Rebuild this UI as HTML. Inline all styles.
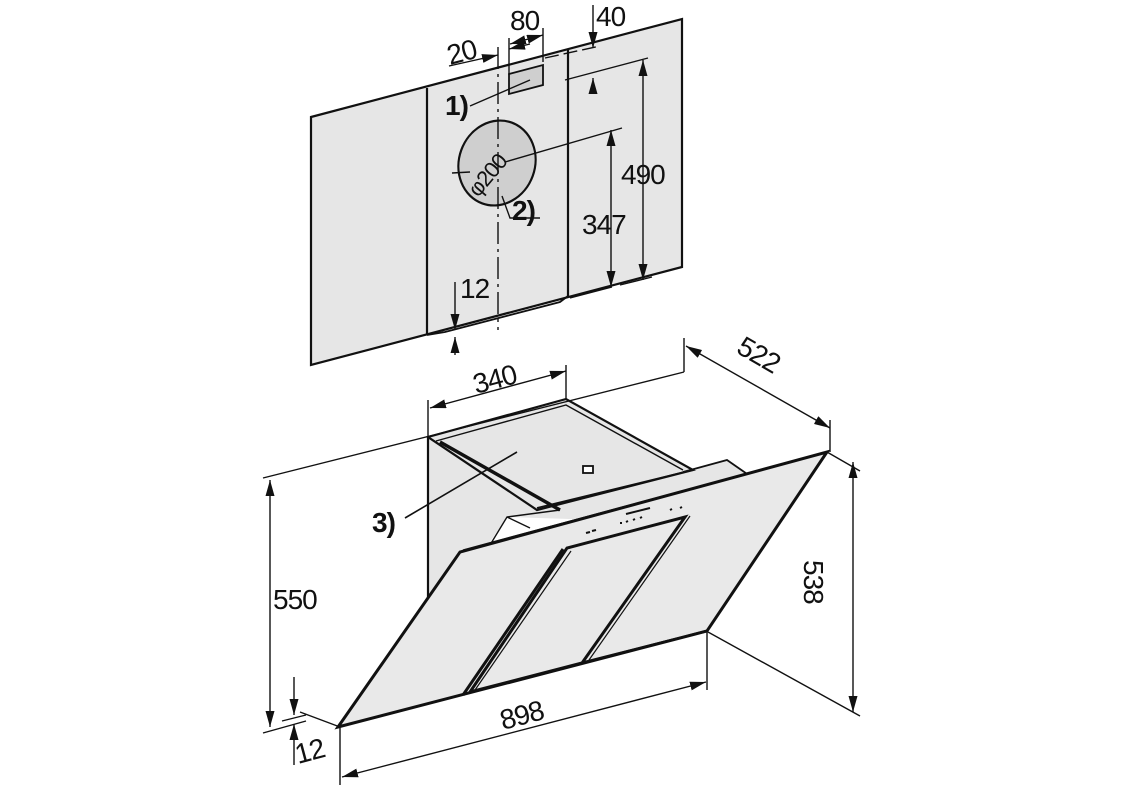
<!DOCTYPE html>
<html><head><meta charset="utf-8"><style>
html,body{margin:0;padding:0;background:#fff;width:1123px;height:788px;overflow:hidden}
svg{display:block}
text{font-family:"Liberation Sans",Arial,sans-serif;fill:#111}
</style></head><body>
<svg width="1123" height="788" viewBox="0 0 1123 788" xmlns="http://www.w3.org/2000/svg">
<defs>
<marker id="a" viewBox="0 0 16 9" refX="16" refY="4.5" markerWidth="16" markerHeight="9" markerUnits="userSpaceOnUse" orient="auto-start-reverse"><path d="M0,0 L16,4.5 L0,9 z" fill="#111"/></marker>
</defs>
<g stroke="#111" stroke-width="1.4" fill="none">
<!-- WALL -->
<polygon points="311,117 682,19 682,267 311,365" fill="#e6e6e6" stroke-width="2.2"/>
<line x1="427" y1="88" x2="427" y2="335" stroke-width="2.2"/>
<line x1="568" y1="50" x2="568" y2="296" stroke-width="2.2"/>
<polyline points="427,335 445,332 560,302 568,296" stroke-width="1.8"/>
<ellipse cx="497" cy="163" rx="38" ry="43" transform="rotate(20 497 163)" fill="#cfcfcf" stroke-width="2.2"/>
<polygon points="509,74 543,65 543,85 509,94" fill="#cfcfcf" stroke-width="1.8"/>
<line x1="498" y1="47" x2="498" y2="330" stroke-dasharray="22,5,3,5"/>
<line x1="452" y1="173" x2="470" y2="172"/>
<!-- leaders -->
<line x1="470" y1="106" x2="530" y2="80"/>
<polyline points="502,196 510,218 540,218"/>
<!-- top dims -->
<line x1="449" y1="66" x2="498" y2="55" marker-end="url(#a)"/>
<line x1="530" y1="44" x2="509" y2="49" marker-end="url(#a)"/>
<line x1="509" y1="38" x2="509" y2="75"/>
<line x1="543" y1="28" x2="543" y2="62"/>
<line x1="510" y1="44" x2="543" y2="35" marker-start="url(#a)" marker-end="url(#a)"/>
<line x1="593" y1="5" x2="593" y2="48" marker-end="url(#a)"/>
<line x1="593" y1="92" x2="593" y2="78" marker-end="url(#a)"/>
<line x1="545" y1="58" x2="600" y2="46" stroke-dasharray="14,5"/>
<line x1="565" y1="80" x2="648" y2="58"/>
<line x1="505" y1="162" x2="622" y2="128"/>
<line x1="643" y1="60" x2="643" y2="280" marker-start="url(#a)" marker-end="url(#a)"/>
<line x1="611" y1="130" x2="611" y2="287" marker-start="url(#a)" marker-end="url(#a)"/>
<line x1="570" y1="298" x2="612" y2="287"/>
<line x1="620" y1="285" x2="652" y2="277"/>
<line x1="455" y1="282" x2="455" y2="330" marker-end="url(#a)"/>
<line x1="455" y1="355" x2="455" y2="337" marker-end="url(#a)"/>
<!-- HOOD box -->
<polygon points="428,437 566,399 693,470 727,460 750,476 600,520 507,517 490,542 428,600" fill="#e6e6e6" stroke="none"/>
<line x1="428" y1="437" x2="428" y2="600" stroke-width="2.2"/>
<polygon points="428,437 566,399 693,470 537,510" fill="#e6e6e6" stroke-width="2.2"/>
<polyline points="436,441 566,405 683,470" stroke-width="1.4"/>
<line x1="440" y1="442" x2="560" y2="510" stroke-width="3.5"/>
<line x1="537" y1="508" x2="693" y2="470" stroke-width="1.8"/>
<polyline points="683,472 727,460 750,476" stroke-width="1.8"/>
<polyline points="490,545 507,517 560,510"/>
<line x1="507" y1="517" x2="530" y2="528"/>
<rect x="583" y="466" width="10" height="7" fill="#fff" stroke-width="1.8"/>
<!-- glass -->
<polygon points="338,727 460,552 827,452 707,631" fill="#e9e9e9" stroke-width="3"/>
<polyline points="463,550 827,452" stroke-width="1.4"/>
<line x1="463" y1="695" x2="563" y2="549" stroke-width="3"/>
<polygon points="470,692 567,548 685,517 582,663" fill="#e9e9e9" stroke-width="3"/>
<line x1="475" y1="690" x2="571" y2="551" stroke-width="1.2"/>
<line x1="589" y1="660" x2="690" y2="516" stroke-width="1.2"/>
<line x1="585" y1="662" x2="707" y2="631" stroke-width="2.5"/>
<g stroke-width="2"><line x1="586" y1="533" x2="590" y2="532"/><line x1="592" y1="531" x2="596" y2="530"/><line x1="620" y1="523" x2="622" y2="523"/><line x1="626" y1="522" x2="628" y2="521"/><line x1="633" y1="520" x2="635" y2="519"/><line x1="640" y1="518" x2="642" y2="517"/><line x1="626" y1="514" x2="650" y2="508"/><line x1="670" y1="510" x2="672" y2="509"/><line x1="680" y1="508" x2="682" y2="507"/></g>
<line x1="405" y1="518" x2="517" y2="452" stroke-width="1.6"/>
<!-- hood dims -->
<line x1="263" y1="478" x2="684" y2="372"/>
<line x1="684" y1="338" x2="684" y2="372"/>
<line x1="428" y1="400" x2="428" y2="437"/>
<line x1="566" y1="365" x2="566" y2="399"/>
<line x1="430" y1="408" x2="566" y2="371" marker-start="url(#a)" marker-end="url(#a)"/>
<line x1="686" y1="346" x2="830" y2="428" marker-start="url(#a)" marker-end="url(#a)"/>
<line x1="830" y1="420" x2="830" y2="452"/>
<line x1="827" y1="452" x2="860" y2="471"/>
<line x1="708" y1="632" x2="860" y2="716"/>
<line x1="853" y1="462" x2="853" y2="712" marker-start="url(#a)" marker-end="url(#a)"/>
<line x1="270" y1="480" x2="270" y2="727" marker-start="url(#a)" marker-end="url(#a)"/>
<line x1="263" y1="733" x2="306" y2="721"/>
<line x1="282" y1="721" x2="306" y2="715"/>
<line x1="300" y1="712" x2="340" y2="727"/>
<line x1="294" y1="677" x2="294" y2="715" marker-end="url(#a)"/>
<line x1="294" y1="765" x2="294" y2="724" marker-end="url(#a)"/>
<line x1="340" y1="727" x2="340" y2="785"/>
<line x1="707" y1="632" x2="707" y2="690"/>
<line x1="342" y1="777" x2="706" y2="682" marker-start="url(#a)" marker-end="url(#a)"/>
</g>
<g font-size="28" letter-spacing="-1">
<text x="450" y="65" transform="rotate(-15 450 65)">20</text>
<text x="510" y="30">80</text>
<text x="596" y="26">40</text>
<text x="621" y="184">490</text>
<text x="582" y="234">347</text>
<text x="460" y="298">12</text>
<text x="478" y="198" font-size="22" transform="rotate(-50 478 198)">φ200</text>
<text x="445" y="115" font-weight="bold">1)</text>
<text x="512" y="220" font-weight="bold">2)</text>
<text x="476" y="394" transform="rotate(-15 476 394)">340</text>
<text x="735" y="352" transform="rotate(30 735 352)">522</text>
<text x="804" y="560" transform="rotate(90 804 560)">538</text>
<text x="273" y="609">550</text>
<text x="372" y="532" font-weight="bold">3)</text>
<text x="298" y="764" transform="rotate(-15 298 764)">12</text>
<text x="503" y="730" transform="rotate(-15 503 730)">898</text>
</g>
</svg>
</body></html>
